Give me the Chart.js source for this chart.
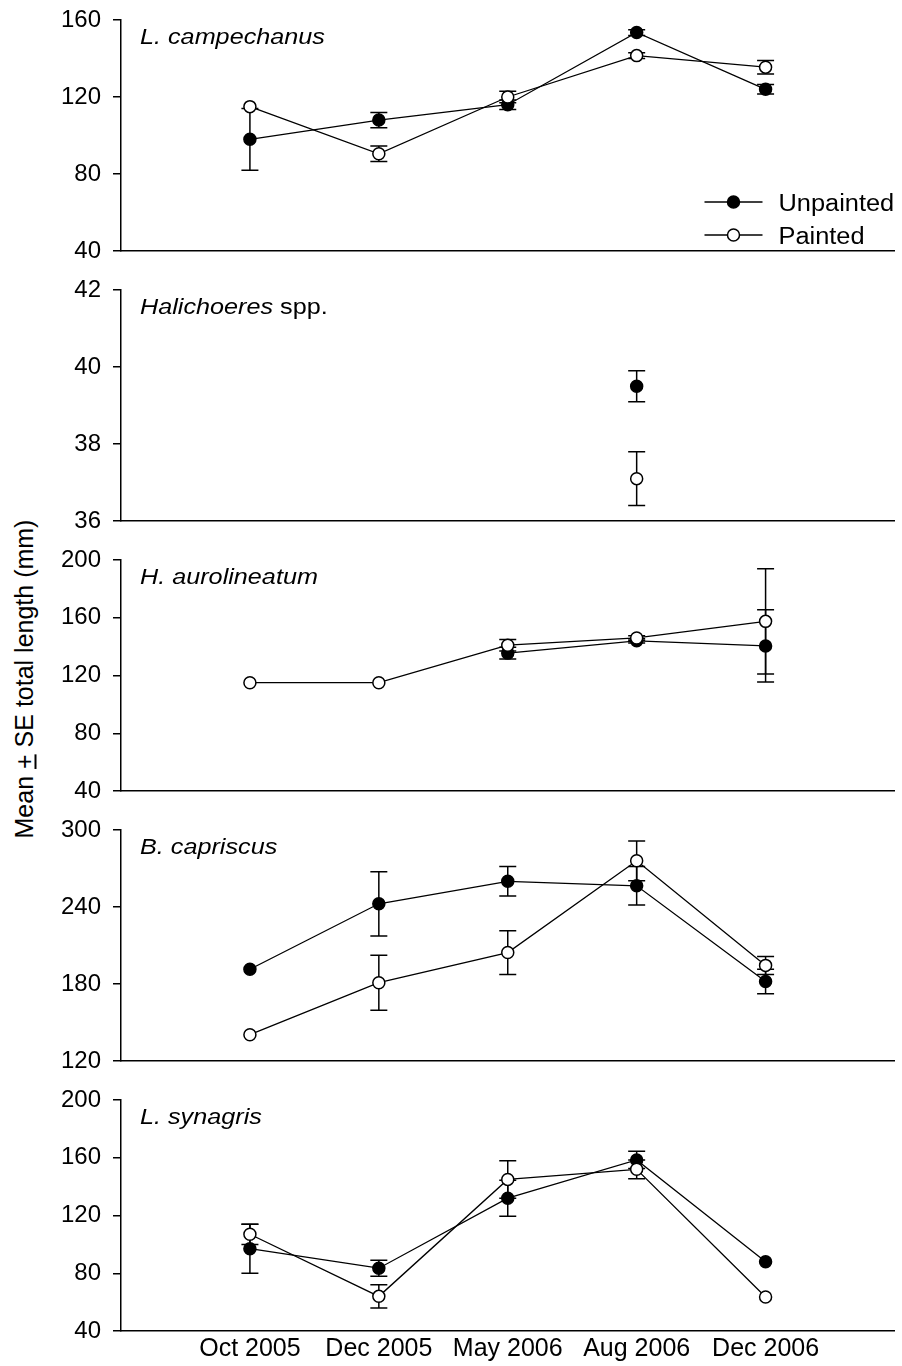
<!DOCTYPE html>
<html>
<head>
<meta charset="utf-8">
<title>Mean total length by sampling period</title>
<script src="https://cdn.jsdelivr.net/npm/chart.js@4.4.1/dist/chart.umd.min.js"></script>
<style>
  html, body { margin: 0; padding: 0; background: #fff; }
  #page { position: relative; width: 902px; height: 1366px; overflow: hidden; background: #fff; }
  .panel { position: absolute; left: 0; width: 902px; }
  #ytitle {
    position: absolute; left: 24px; top: 679px;
    transform: translate(-50%, -50%) rotate(-90deg);
    white-space: nowrap; line-height: 1;
    font: 25px "Liberation Sans", Arial, sans-serif; color: #000;
  }
  #ytitle u { text-decoration: underline; text-decoration-thickness: 1.5px; text-underline-offset: 2px; }
</style>
</head>
<body>
<div id="page">
  <div id="ytitle">Mean <u>+</u> SE total length (mm)</div>
</div>
<script>
// Sampling periods (x axis)
const months = ['Oct 2005', 'Dec 2005', 'May 2006', 'Aug 2006', 'Dec 2006'];

// L. campechanus
const campechanusUnpainted    = [98, 108, 116, 153.5, 124];
const campechanusUnpaintedSE  = [16, 4, 2.5, 1.5, 2.5];
const campechanusPainted      = [115, 90.5, 120, 141.5, 135.5];
const campechanusPaintedSE    = [0, 4, 3, 1.5, 3.5];

// Halichoeres spp.
const halichoeresUnpainted    = [null, null, null, 39.5, null];
const halichoeresUnpaintedSE  = [0, 0, 0, 0.4, 0];
const halichoeresPainted      = [null, null, null, 37.1, null];
const halichoeresPaintedSE    = [0, 0, 0, 0.7, 0];

// H. aurolineatum
const aurolineatumUnpainted   = [null, null, 135.5, 144, 140.5];
const aurolineatumUnpaintedSE = [0, 0, 4, 1.5, 25];
const aurolineatumPainted     = [115, 115, 141, 146, 157.5];
const aurolineatumPaintedSE   = [0, 0, 4, 1.5, 36.5];

// B. capriscus
const capriscusUnpainted      = [191.5, 242.5, 260, 256.5, 182];
const capriscusUnpaintedSE    = [0, 25, 11.5, 15, 9.5];
const capriscusPainted        = [140.5, 181, 204.5, 276, 194.5];
const capriscusPaintedSE      = [0, 21.5, 17, 15.5, 7];

// L. synagris
const synagrisUnpainted       = [97, 83.5, 132, 158.5, 88];
const synagrisUnpaintedSE     = [17, 5.5, 12.5, 6, 0];
const synagrisPainted         = [107, 64, 145, 152, 63.5];
const synagrisPaintedSE       = [7, 8, 13, 6.5, 0];

// Y axis ranges and tick steps per panel
const yRanges = [
  { min: 40,  max: 160, step: 40 },
  { min: 36,  max: 42,  step: 2 },
  { min: 40,  max: 200, step: 40 },
  { min: 120, max: 300, step: 60 },
  { min: 40,  max: 200, step: 40 }
];

// Panel captions: [text, italic]
const captions = [
  [['L. campechanus', true]],
  [['Halichoeres', true], [' spp.', false]],
  [['H. aurolineatum', true]],
  [['B. capriscus', true]],
  [['L. synagris', true]]
];

const seriesNames = ['Unpainted', 'Painted'];

const panelSeries = [
  [campechanusUnpainted, campechanusUnpaintedSE, campechanusPainted, campechanusPaintedSE],
  [halichoeresUnpainted, halichoeresUnpaintedSE, halichoeresPainted, halichoeresPaintedSE],
  [aurolineatumUnpainted, aurolineatumUnpaintedSE, aurolineatumPainted, aurolineatumPaintedSE],
  [capriscusUnpainted, capriscusUnpaintedSE, capriscusPainted, capriscusPaintedSE],
  [synagrisUnpainted, synagrisUnpaintedSE, synagrisPainted, synagrisPaintedSE]
];

// ---- layout / style ----
const FONT = '"Liberation Sans", Arial, sans-serif';
const PLOT_TOPS = [20, 289.5, 559.5, 829.5, 1099.5];
const PLOT_H = 231;
const PAD_TOP = 15;
const AXIS_W = 121;
const CAP = 8.5;
const PAGE_H = 1366;

// error bars beneath the markers
const errorBars = {
  id: 'errorBars',
  beforeDatasetsDraw(chart) {
    const { ctx, scales: { x, y } } = chart;
    ctx.save();
    ctx.strokeStyle = '#000';
    ctx.lineWidth = 1.5;
    chart.data.datasets.forEach(ds => {
      ds.data.forEach((p, i) => {
        const e = ds.errors[i];
        if (p.y == null || !e) return;
        const px = x.getPixelForValue(p.x);
        const top = y.getPixelForValue(p.y + e);
        const bot = y.getPixelForValue(p.y - e);
        ctx.beginPath();
        ctx.moveTo(px, top); ctx.lineTo(px, bot);
        ctx.moveTo(px - CAP, top); ctx.lineTo(px + CAP, top);
        ctx.moveTo(px - CAP, bot); ctx.lineTo(px + CAP, bot);
        ctx.stroke();
      });
    });
    ctx.restore();
  }
};

// species caption in the upper left corner of each panel
const caption = {
  id: 'caption',
  afterDraw(chart, args, opts) {
    const { ctx, chartArea } = chart;
    ctx.save();
    ctx.translate(chartArea.left + 19, chartArea.top + 23.5);
    ctx.scale(1.12, 1);
    ctx.fillStyle = '#000';
    ctx.textBaseline = 'alphabetic';
    let cx = 0;
    opts.parts.forEach(([text, italic]) => {
      ctx.font = (italic ? 'italic ' : '') + '22.5px ' + FONT;
      ctx.fillText(text, cx, 0);
      cx += ctx.measureText(text).width;
    });
    ctx.restore();
  }
};

// line + marker legend
const seriesLegend = {
  id: 'seriesLegend',
  afterDraw(chart, args, opts) {
    if (!opts.show) return;
    const { ctx, chartArea } = chart;
    const r = chartArea.right;
    ctx.save();
    chart.data.datasets.forEach((ds, k) => {
      const ly = chartArea.top + 182 + k * 33;
      ctx.strokeStyle = '#000';
      ctx.lineWidth = 1.3;
      ctx.beginPath();
      ctx.moveTo(r - 190, ly); ctx.lineTo(r - 132, ly);
      ctx.stroke();
      ctx.beginPath();
      ctx.arc(r - 161, ly, 6, 0, Math.PI * 2);
      ctx.fillStyle = ds.pointBackgroundColor;
      ctx.fill();
      ctx.lineWidth = 1.5;
      ctx.stroke();
      ctx.save();
      ctx.translate(r - 116, ly + 8.5);
      ctx.scale(1.08, 1);
      ctx.fillStyle = '#000';
      ctx.font = '23.5px ' + FONT;
      ctx.fillText(ds.label, 0, 0);
      ctx.restore();
    });
    ctx.restore();
  }
};

const page = document.getElementById('page');

panelSeries.forEach((series, i) => {
  const last = i === panelSeries.length - 1;
  const top = PLOT_TOPS[i] - PAD_TOP;
  const xh = last ? PAGE_H - (PLOT_TOPS[i] + PLOT_H) : 16;
  const h = PAD_TOP + PLOT_H + xh;

  const box = document.createElement('div');
  box.className = 'panel';
  box.style.top = top + 'px';
  box.style.height = h + 'px';
  const canvas = document.createElement('canvas');
  box.appendChild(canvas);
  page.appendChild(box);

  const [uVals, uErr, pVals, pErr] = series;
  const toPoints = vals => vals.map((v, k) => ({ x: k, y: v }));
  const common = {
    borderColor: '#000', borderWidth: 1.3, pointRadius: 6, pointHoverRadius: 6,
    pointBorderColor: '#000', pointBorderWidth: 1.5, tension: 0, fill: false, spanGaps: false
  };

  const range = yRanges[i];

  new Chart(canvas, {
    type: 'line',
    data: {
      datasets: [
        Object.assign({}, common, {
          label: seriesNames[0], data: toPoints(uVals), errors: uErr,
          pointBackgroundColor: '#000', order: 1
        }),
        Object.assign({}, common, {
          label: seriesNames[1], data: toPoints(pVals), errors: pErr,
          pointBackgroundColor: '#fff', order: 0
        })
      ]
    },
    options: {
      responsive: true,
      maintainAspectRatio: false,
      animation: false,
      events: [],
      layout: { padding: { top: PAD_TOP, right: 5, left: 0, bottom: 0 } },
      plugins: {
        legend: { display: false },
        tooltip: { enabled: false },
        caption: { parts: captions[i] },
        seriesLegend: { show: i === 0 }
      },
      scales: {
        x: {
          type: 'linear', min: -1, max: 5,
          afterBuildTicks: ax => { ax.ticks = months.map((_, k) => ({ value: k })); },
          afterFit: ax => {
            ax.height = xh;
            ax.paddingLeft = 0; ax.paddingRight = 0;
          },
          ticks: {
            display: last, autoSkip: false, maxRotation: 0, minRotation: 0, padding: 3,
            color: '#000', font: { family: FONT, size: 25 },
            callback: v => months[v]
          },
          grid: { display: false, drawTicks: false },
          border: { display: true, color: '#000', width: 1.5 }
        },
        y: {
          min: range.min, max: range.max,
          afterBuildTicks: ax => {
            const t = [];
            for (let v = range.min; v <= range.max + 1e-9; v += range.step) t.push({ value: v });
            ax.ticks = t;
          },
          afterFit: ax => {
            ax.width = AXIS_W;
            ax.paddingTop = 0; ax.paddingBottom = 0;
          },
          ticks: { color: '#000', font: { family: FONT, size: 24 }, padding: 12 },
          grid: { drawOnChartArea: false, drawTicks: true, tickLength: 8, color: '#000', lineWidth: 1.5 },
          border: { display: true, color: '#000', width: 1.5 }
        }
      }
    },
    plugins: [errorBars, caption, seriesLegend]
  });
});
</script>
</body>
</html>
